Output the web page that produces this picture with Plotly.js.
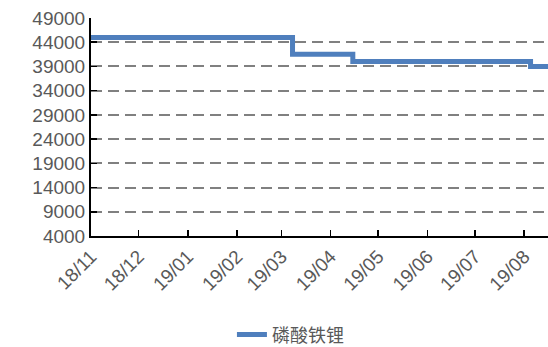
<!DOCTYPE html>
<html><head><meta charset="utf-8">
<script src="https://cdn.plot.ly/plotly-3.0.1.min.js"></script>
<style>body{margin:0;background:#fff}#c{width:548px;height:347px}</style>
</head><body><div id="c"></div>
<script>
const seriesName = '磷酸铁锂';
const dates = ['2018-11-01','2019-03-08','2019-04-15','2019-08-05','2019-08-16'];
const prices = [45000, 41500, 40000, 39000, 39000];
const yTicks = [4000,9000,14000,19000,24000,29000,34000,39000,44000,49000];

Plotly.newPlot('c', [{
  x: dates, y: prices, type: 'scatter', mode: 'lines', name: seriesName,
  line: {color: '#4f7fbd', width: 5, shape: 'hv'}
}], {
  width: 548, height: 347,
  margin: {l: 91, r: 0, t: 18, b: 111},
  paper_bgcolor: '#fff', plot_bgcolor: '#fff',
  showlegend: true,
  legend: {orientation: 'h', xref: 'container', yref: 'container', x: 0.53, xanchor: 'center', y: 0.035, yanchor: 'middle',
           font: {family: 'Noto Sans CJK SC', size: 18, color: '#595959'}},
  xaxis: {
    type: 'date', range: ['2018-11-01', '2019-08-16'],
    tick0: '2018-11-01', dtick: 'M1', tickformat: '%y/%m', tickangle: -45,
    ticks: 'inside', ticklen: 6, tickcolor: '#000', tickwidth: 1.5,
    showline: true, linecolor: '#000', linewidth: 2, showgrid: false, zeroline: false,
    tickfont: {family: 'Liberation Sans', size: 19, color: '#595959'}
  },
  yaxis: {
    range: [4000, 49000], tickvals: yTicks, ticktext: yTicks.map(String),
    ticks: 'inside', ticklen: 6, tickcolor: '#000', tickwidth: 1.5,
    showline: true, linecolor: '#000', linewidth: 2,
    showgrid: true, gridcolor: '#808080', gridwidth: 2, griddash: '11px,6px', zeroline: false,
    tickfont: {family: 'Liberation Sans', size: 19, color: '#595959'}
  }
}, {displayModeBar: false, staticPlot: true});
</script></body></html>
